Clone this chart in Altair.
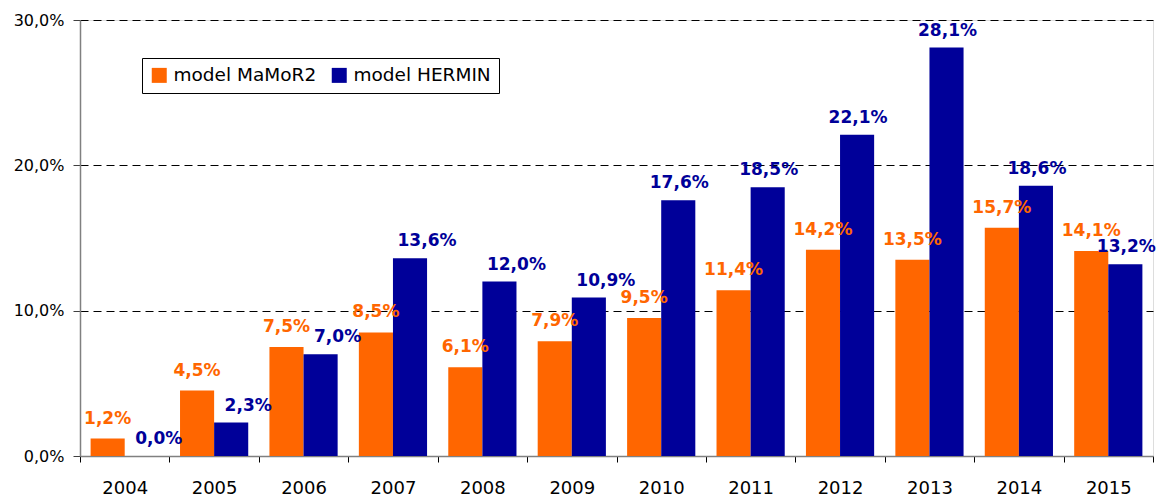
import json
import altair as alt
import pandas as pd

years = ["2004", "2005", "2006", "2007", "2008", "2009", "2010", "2011", "2012", "2013", "2014", "2015"]
mamor = [1.2, 4.5, 7.5, 8.5, 6.1, 7.9, 9.5, 11.4, 14.2, 13.5, 15.7, 14.1]
hermin = [0.0, 2.3, 7.0, 13.6, 12.0, 10.9, 17.6, 18.5, 22.1, 28.1, 18.6, 13.2]
series_names = ["model MaMoR2", "model HERMIN"]
colors = ["#FF6600", "#000099"]
y_ticks = [0, 10, 20, 30]
early_years = years[:6]

rows = []
for i, yr in enumerate(years):
    rows.append({"year": yr, "series": series_names[0], "value": mamor[i]})
    rows.append({"year": yr, "series": series_names[1], "value": hermin[i]})
df = pd.DataFrame(rows)

FONT = "DejaVu Sans"

x_enc = alt.X(
    "year:N", sort=years,
    scale=alt.Scale(paddingInner=0, paddingOuter=0),
    axis=alt.Axis(title=None, labelAngle=0, tickBand="extent", labelFontSize=18,
                  labelColor="#000", labelPadding=17, tickSize=6, tickColor="#000",
                  domainColor="#808080", domainWidth=1.5, labelFont=FONT, grid=False),
)
xo_enc = alt.XOffset("series:N", sort=series_names,
                     scale=alt.Scale(paddingInner=0, paddingOuter=0.311))
y_enc = alt.Y(
    "value:Q",
    scale=alt.Scale(domain=[0, 30], nice=False),
    axis=alt.Axis(title=None, values=y_ticks,
                  labelExpr="replace(format(datum.value, '.1f'), '.', ',') + '%'",
                  labelFontSize=16, labelColor="#000", labelPadding=9, tickSize=7,
                  tickColor="#404040", domainColor="#808080", domainWidth=1.5,
                  labelFont=FONT, grid=True, gridColor="#000", gridDash=[8, 5],
                  gridWidth=1,
                  gridOpacity={"condition": {"test": "datum.value === 0", "value": 0}, "value": 1}),
)

base = alt.Chart(df).encode(x=x_enc, xOffset=xo_enc, y=y_enc)

bars = base.mark_bar().encode(
    color=alt.Color("series:N", sort=series_names,
                    scale=alt.Scale(domain=series_names, range=colors),
                    legend=alt.Legend(title=None, orient="none", legendX=62, legendY=38,
                                      direction="horizontal", symbolType="square",
                                      symbolSize=225, symbolStrokeWidth=0,
                                      labelFontSize=18.5, labelFont=FONT, labelColor="#000",
                                      labelOffset=5, columnPadding=13, padding=8,
                                      strokeColor="#000", fillColor="#fff",
                                      labelLimit=300)),
)

label_expr = "replace(format(datum.value, '.1f'), '.', ',') + '%'"
early_js = json.dumps(early_years)


def labels(filter_expr, color, dx, dy):
    return base.transform_filter(filter_expr).transform_calculate(
        lbl=label_expr
    ).mark_text(
        fontSize=17, fontWeight="bold", font=FONT, color=color,
        baseline="middle", dy=dy, dx=dx
    ).encode(text="lbl:N")


text_orange = labels(f"datum.series === '{series_names[0]}'", colors[0], 0, -20)
text_blue_early = labels(
    f"datum.series === '{series_names[1]}' && indexof({early_js}, datum.year) >= 0",
    colors[1], 17, -17)
text_blue_late = labels(
    f"datum.series === '{series_names[1]}' && indexof({early_js}, datum.year) < 0",
    colors[1], 1, -17)

chart = alt.layer(bars, text_orange, text_blue_early, text_blue_late).properties(
    width=1073, height=436,
    padding={"left": 72, "top": 12, "right": 3, "bottom": 40},
    autosize=alt.AutoSizeParams(type="none"),
).configure_view(stroke=None).configure(font=FONT)

chart.save("out.html", embed_options={"renderer": "svg", "actions": False})
